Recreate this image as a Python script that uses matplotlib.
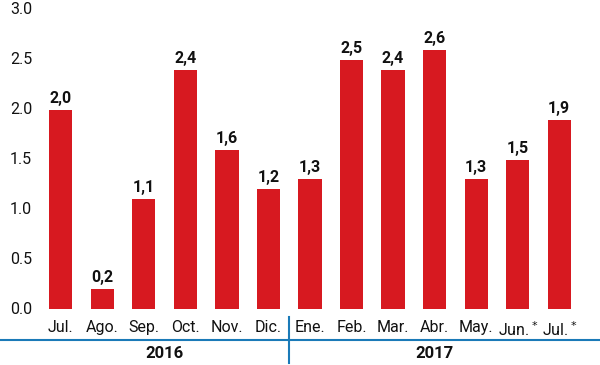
import matplotlib
matplotlib.use("Agg")
import matplotlib.pyplot as plt
from matplotlib.lines import Line2D

months = ["Jul.", "Ago.", "Sep.", "Oct.", "Nov.", "Dic.", "Ene.", "Feb.", "Mar.", "Abr.", "May.", "Jun.$^*$", "Jul.$^*$"]
values = [2.0, 0.2, 1.1, 2.4, 1.6, 1.2, 1.3, 2.5, 2.4, 2.6, 1.3, 1.5, 1.9]
years = ["2016", "2017"]
year_spans = [(0, 5), (6, 12)]
yticks = [0.0, 0.5, 1.0, 1.5, 2.0, 2.5, 3.0]

RED = "#d71920"
BLUE = "#1a7ab8"
plt.rcParams['font.family'] = ['Roboto', 'DejaVu Sans']

fig = plt.figure(figsize=(6, 3.65), dpi=100)
ax = fig.add_axes([40/600, 56/365, 540/600, (355-56)/365])
x = list(range(len(values)))
ax.bar(x, values, width=0.56, color=RED)
ax.set_xlim(-0.5, 12.5)
ax.set_ylim(0, 3.0)
for s in ax.spines.values():
    s.set_visible(False)
ax.set_yticks([])
ax.set_xticks([])
ytr = ax.get_yaxis_transform()
for t in yticks:
    ax.text(-0.056, t, f"{t:.1f}", transform=ytr, ha='left', va='center',
            fontsize=11.5, color="#111111", clip_on=False)
for xi, v, m in zip(x, values, months):
    ax.text(xi, v + 0.04, f"{v:.1f}".replace(".", ","), ha='center', va='bottom',
            fontsize=11.5, fontweight='bold', color="#111111")
    ax.text(xi, -0.11, m, ha='center', va='top', fontsize=11.5, color="#111111",
            clip_on=False)

# blue baseline across figure
fig.add_artist(Line2D([0, 1], [1 - 340/365, 1 - 340/365], color=BLUE, lw=1.5, transform=fig.transFigure))
# divider
xd = ax.transData.transform((5.5, 0))[0] / 600
fig.add_artist(Line2D([xd, xd], [1 - 363/365, 1 - 317/365], color=BLUE, lw=1.5, transform=fig.transFigure))
for yr, (a, b) in zip(years, year_spans):
    xc = ax.transData.transform(((a + b) / 2, 0))[0] / 600
    fig.text(xc, 1 - 353/365, yr, ha='center', va='center', fontsize=12, fontweight='bold', color="#111111")

fig.savefig("out.png", dpi=100, facecolor="white")
